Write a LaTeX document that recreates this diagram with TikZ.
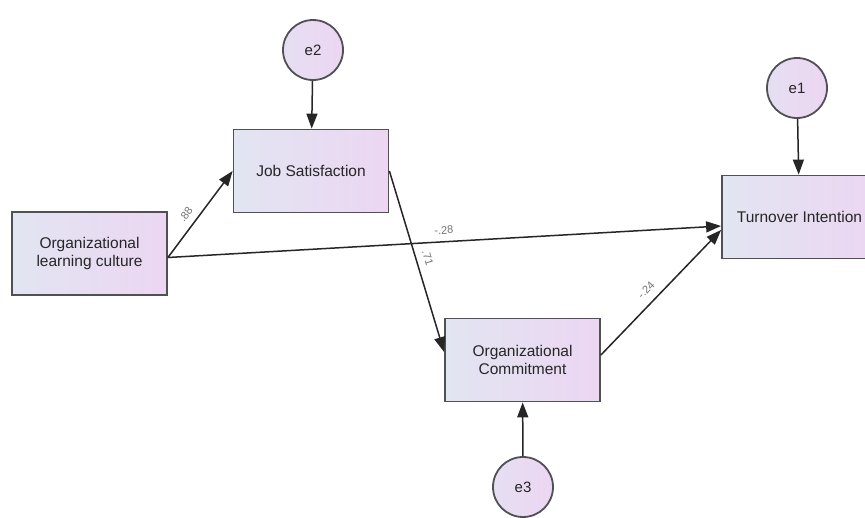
\documentclass[tikz,border=0pt]{standalone}
\usepackage{fontspec}
\setmainfont{Liberation Sans}
\usetikzlibrary{arrows.meta}

\definecolor{boxleft}{RGB}{226,229,242}
\definecolor{boxright}{RGB}{236,214,242}
\definecolor{boxline}{RGB}{80,80,85}

\tikzstyle{varbox} = [draw=boxline, line width=1.8pt, rectangle,
    left color=boxleft, right color=boxright,
    minimum width=155pt, minimum height=83pt, align=center,
    text=black!85, font=\fontsize{15.5}{18}\selectfont]
\tikzstyle{errcirc} = [draw=boxline, line width=1.8pt, circle,
    left color=boxleft!60!boxright, right color=boxright,
    minimum size=60pt, text=black!85, font=\fontsize{15}{18}\selectfont]
\tikzstyle{path} = [draw=black!85, line width=1.5pt,
    -{Triangle[length=15pt,width=11pt]}]
\tikzstyle{coef} = [sloped, text=black!55, inner sep=1pt,
    font=\fontsize{11}{13}\selectfont]

\begin{document}
\begin{tikzpicture}[x=1pt, y=-1pt]
\useasboundingbox[fill=white] (0,0) rectangle (865,517);
\clip (0,0) rectangle (865,517);

% observed variables
\node [varbox] (olc) at (89.5,253.5) {Organizational\\learning culture};
\node [varbox] (js) at (311,171) {Job Satisfaction};
\node [varbox] (oc) at (522.5,360) {Organizational\\Commitment};
\node [varbox] (ti) at (799.5,217) {Turnover Intention};

% error terms
\node [errcirc] (e2) at (313,50) {e2};
\node [errcirc] (e1) at (797,88) {e1};
\node [errcirc] (e3) at (523,487) {e3};

% paths
\draw [path] ([yshift=-4pt]olc.east) -- node [coef, above=6pt, pos=0.42] {.88} (js.west);
\draw [path] ([yshift=-4pt]olc.east) -- node [coef, above=6pt, pos=0.5] {-.28} ([yshift=-9pt]ti.west);
\draw [path] (js.east) -- node [coef, above=6pt, pos=0.5] {.71} ([yshift=8pt]oc.west);
\draw [path] ([yshift=5pt]oc.east) -- node [coef, above=7pt, pos=0.45] {-.24} ([yshift=-13pt]ti.west);

\draw [path] (e2) -- (js);
\draw [path] (e1) -- (ti);
\draw [path] (e3) -- (oc);
\end{tikzpicture}
\end{document}
